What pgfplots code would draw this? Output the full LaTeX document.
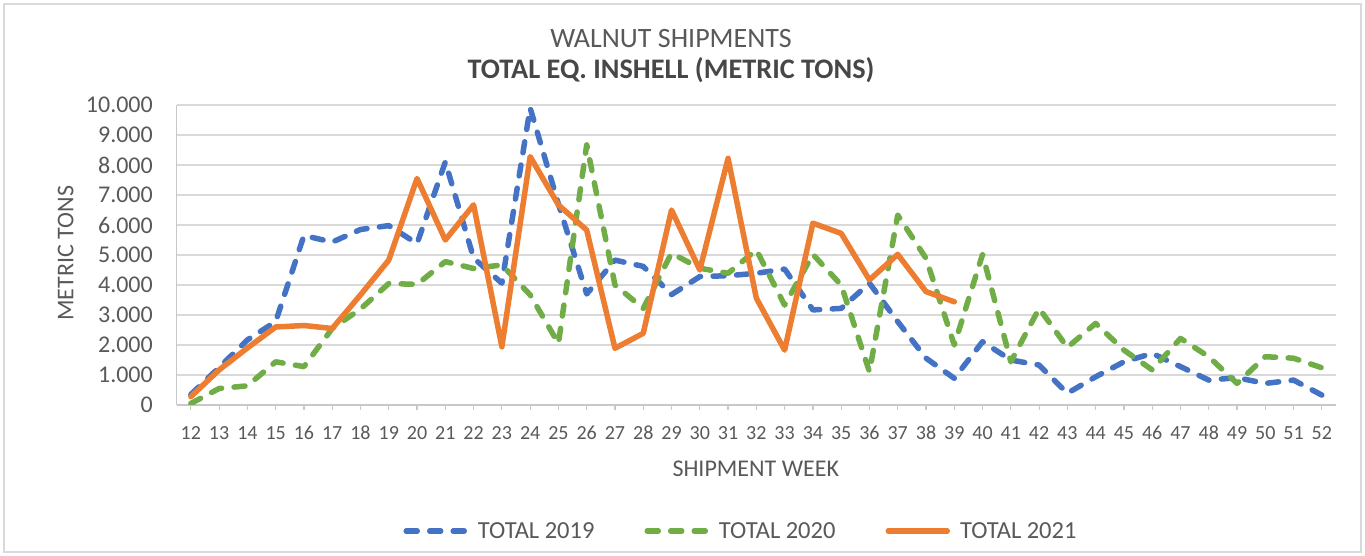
\documentclass[border=0pt]{standalone}
\usepackage{fontspec}
\setmainfont{Carlito}
\usepackage{pgfplots}
\usepackage{pgfplotstable}
\pgfplotsset{compat=1.18}
\definecolor{c19}{HTML}{4472C4}
\definecolor{c20}{HTML}{70AD47}
\definecolor{c21}{HTML}{ED7D31}
\definecolor{txt}{HTML}{595959}
\definecolor{gridc}{HTML}{D9D9D9}
\definecolor{axc}{HTML}{C8C8C8}

\pgfplotstableread{
w y
12 350
13 1250
14 2170
15 2780
16 5650
17 5430
18 5850
19 5980
20 5380
21 8100
22 4900
23 4060
24 9900
25 6700
26 3700
27 4830
28 4620
29 3680
30 4280
31 4310
32 4390
33 4530
34 3170
35 3220
36 4060
37 2780
38 1560
39 890
40 2110
41 1500
42 1330
43 390
44 940
45 1440
46 1720
47 1280
48 830
49 910
50 720
51 830
52 330
}\dataA

\pgfplotstableread{
w y
12 50
13 550
14 640
15 1440
16 1280
17 2550
18 3200
19 4050
20 4020
21 4780
22 4550
23 4670
24 3670
25 2050
26 8670
27 4000
28 3220
29 5060
30 4560
31 4390
32 5170
33 3330
34 5020
35 4000
36 1110
37 6330
38 4890
39 2000
40 5020
41 1440
42 3220
43 1920
44 2720
45 1830
46 1170
47 2220
48 1610
49 720
50 1610
51 1560
52 1240
}\dataB

\pgfplotstableread{
w y
12 280
13 1170
14 1900
15 2600
16 2650
17 2550
18 3670
19 4830
20 7550
21 5500
22 6670
23 1940
24 8280
25 6670
26 5830
27 1890
28 2390
29 6500
30 4500
31 8220
32 3560
33 1830
34 6060
35 5720
36 4170
37 5020
38 3780
39 3440
}\dataC

\begin{document}
\begin{tikzpicture}
\path[use as bounding box, fill=white] (0,0) rectangle (1365bp,556bp);
\draw[gridc, line width=1.5bp] (4bp,4bp) rectangle (1361bp,552bp);
\begin{axis}[
  at={(176.7bp,151bp)}, anchor=south west,
  scale only axis, width=1159.3bp, height=300bp,
  clip mode=individual,
  xmin=11.5, xmax=52.5, ymin=0, ymax=10000,
  xtick={12,...,52}, ytick={0,1000,...,10000},
  scaled y ticks=false,
  /pgf/number format/assume math mode=true,
  /pgf/number format/1000 sep={.},
  axis x line*=bottom, axis y line*=left,
  axis line style={axc, line width=1.3bp},
  ymajorgrids, grid style={gridc, line width=1.5bp},
  tick align=outside, major tick length=5bp,
  ytick style={draw=none},
  xtick style={axc, line width=1.2bp},
  xticklabel style={font=\fontsize{20bp}{24bp}\selectfont, text=txt, inner sep=0bp, anchor=north, yshift=-16bp},
  yticklabel style={font=\fontsize{24bp}{28bp}\selectfont, text=txt, inner sep=0bp, anchor=east, xshift=-18.7bp},
  xlabel={SHIPMENT WEEK}, ylabel={METRIC TONS},
  xlabel style={at={(axis description cs:0.4995,-0.211)}, anchor=center, font=\fontsize{24bp}{28bp}\selectfont, text=txt, inner sep=0bp},
  ylabel style={at={(axis description cs:-0.0957,0.5057)}, anchor=center, rotate=0, font=\fontsize{24bp}{28bp}\selectfont, text=txt, inner sep=0bp},
  legend columns=3,
  legend style={at={(axis description cs:0.4859,-0.42)}, anchor=center, draw=none, fill=none,
    font=\fontsize{24.5bp}{28bp}\selectfont, text=txt,
    nodes={inner sep=0bp},
    /tikz/every odd column/.append style={column sep=10bp},
    /tikz/every even column/.append style={column sep=50bp}},
  legend image code/.code={\draw[#1] (0bp,0bp) -- (59bp,0bp);},
  every axis plot/.append style={line width=5.5bp, line cap=round, line join=round},
]
\addplot[c19, dash pattern=on 11bp off 12.5bp] table[x=w,y=y] {\dataA};
\addlegendentry{TOTAL 2019}
\addplot[c20, dash pattern=on 11bp off 12.5bp] table[x=w,y=y] {\dataB};
\addlegendentry{TOTAL 2020}
\addplot[c21] table[x=w,y=y] {\dataC};
\addlegendentry{TOTAL 2021}
\node[anchor=base, font=\fontsize{28bp}{32bp}\selectfont, text=txt, inner sep=0bp] at (axis description cs:0.4264,1.1917) {WALNUT SHIPMENTS};
\node[anchor=base, font=\fontsize{28.3bp}{32bp}\selectfont\bfseries, text=txt!80!black, inner sep=0bp] at (axis description cs:0.4264,1.0867) {TOTAL EQ. INSHELL (METRIC TONS)};
\end{axis}
\end{tikzpicture}
\end{document}
